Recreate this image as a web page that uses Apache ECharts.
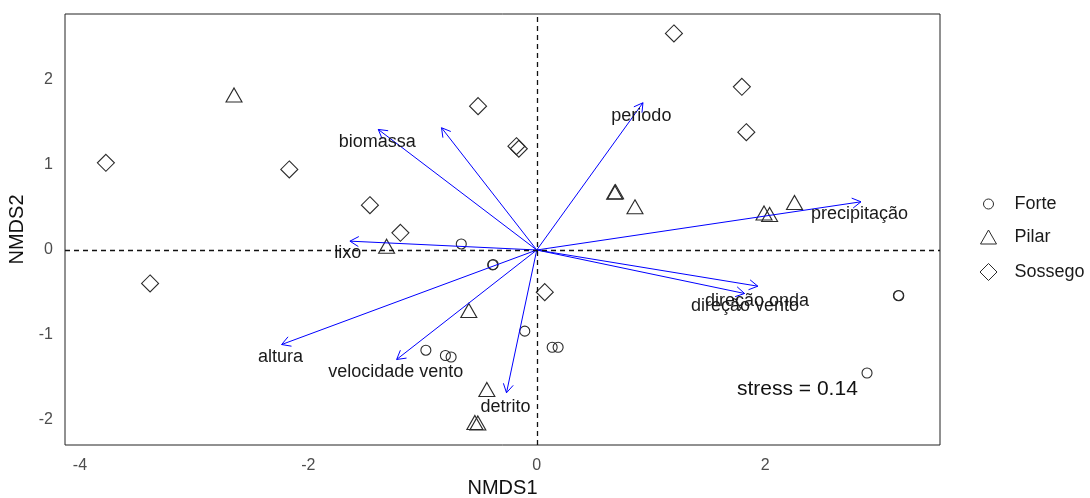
<!DOCTYPE html>
<html><head><meta charset="utf-8">
<script src="https://cdn.jsdelivr.net/npm/echarts@6/dist/echarts.min.js"></script>
<style>html,body{margin:0;padding:0;background:#fff}#c{width:1090px;height:498px}</style>
</head><body><div id="c"></div>
<script>
// ---- data ----
const xTicks = [-4, -2, 0, 2];
const yTicks = [-2, -1, 0, 1, 2];

const forte = [
  [-0.661, 0.071], [-0.382, -0.171], [-0.386, -0.176], [-0.105, -0.955],
  [-0.971, -1.179], [-0.800, -1.241], [-0.750, -1.259], [0.135, -1.144],
  [0.187, -1.144], [3.167, -0.535], [3.170, -0.538], [2.892, -1.447]
];
const pilar = [
  [-2.651, 1.824], [-1.315, 0.045], [-0.595, -0.712], [-0.437, -1.641],
  [-0.542, -2.029], [-0.516, -2.035], [0.682, 0.680], [0.690, 0.685],
  [0.860, 0.508], [1.990, 0.435], [2.039, 0.418], [2.257, 0.559]
];
const sossego = [
  [-3.773, 1.026], [-3.386, -0.394], [-2.167, 0.947], [-1.461, 0.527],
  [-1.194, 0.202], [-0.514, 1.692], [-0.178, 1.221], [-0.157, 1.191],
  [0.070, -0.496], [1.201, 2.547], [1.796, 1.920], [1.835, 1.386]
];

const arrowNames = ['biomassa', '', 'lixo', 'periodo', 'precipitação', 'direção onda',
  'direção vento', 'altura', 'velocidade vento', 'detrito'];
const arrowTips = [
  [-1.388, 1.418], [-0.834, 1.438], [-1.636, 0.104], [0.930, 1.732], [2.839, 0.567],
  [1.936, -0.426], [1.820, -0.512], [-2.234, -1.112], [-1.227, -1.288], [-0.265, -1.680]
];
const labelNames = ['biomassa', 'lixo', 'periodo', 'precipitação', 'direção onda',
  'direção vento', 'altura', 'velocidade vento', 'detrito'];
const labelPos = [
  [-1.397, 1.291], [-1.655, -0.014], [0.916, 1.602], [2.826, 0.449], [1.929, -0.582],
  [1.824, -0.641], [-2.244, -1.241], [-1.235, -1.414], [-0.274, -1.818]
];
const stressText = 'stress = 0.14';

// ---- chart ----
const FONT = '"Liberation Sans", Arial, sans-serif';
const chart = echarts.init(document.getElementById('c'), null, {renderer: 'canvas'});
const ptStyle = {color: 'rgba(0,0,0,0)', borderColor: '#2b2b2b', borderWidth: 1.1, opacity: 1};

function legendFor(name, w, h, cy, pad) {
  return {
    data: [name], orient: 'vertical', left: 988 - w / 2, top: cy - 7, padding: 0,
    itemWidth: w, itemHeight: h, symbolKeepAspect: true,
    itemStyle: {borderWidth: 1, borderColor: '#2b2b2b', color: 'rgba(0,0,0,0)'},
    textStyle: {fontSize: 18, color: '#1a1a1a', fontFamily: FONT, padding: [0, 0, 0, pad]},
    selectedMode: false
  };
}

chart.setOption({
  animation: false,
  backgroundColor: '#fff',
  textStyle: {fontFamily: FONT},
  grid: {left: 65, right: 150, top: 14, bottom: 53, show: true, borderColor: '#222', borderWidth: 1,
    outerBoundsMode: 'none', containLabel: false},
  xAxis: {
    type: 'value', min: -4.131, max: 3.531,
    axisLine: {show: false}, axisTick: {show: false}, splitLine: {show: false},
    axisLabel: {customValues: xTicks, color: '#4d4d4d', fontSize: 16, margin: 13, fontFamily: FONT},
    name: 'NMDS1', nameLocation: 'middle', nameGap: 32,
    nameTextStyle: {fontSize: 20, color: '#111', fontFamily: FONT}
  },
  yAxis: {
    type: 'value', min: -2.294, max: 2.776,
    axisLine: {show: false}, axisTick: {show: false}, splitLine: {show: false},
    axisLabel: {customValues: yTicks, color: '#4d4d4d', fontSize: 16, margin: 12, fontFamily: FONT,
      padding: [7, 0, 0, 0]},
    name: 'NMDS2', nameLocation: 'middle', nameGap: 21, nameRotate: 90,
    nameTextStyle: {fontSize: 20, color: '#111', fontFamily: FONT}
  },
  legend: [
    legendFor('Forte', 10, 10, 202, 16),
    legendFor('Pilar', 16, 14, 235, 13),
    legendFor('Sossego', 17, 17, 270, 12.5)
  ],
  series: [
    {
      name: 'Forte', type: 'scatter', data: forte, symbol: 'circle', symbolSize: 10,
      itemStyle: ptStyle, z: 2,
      markLine: {
        silent: true, symbol: ['none', 'none'], label: {show: false},
        lineStyle: {color: '#111', width: 1.3, type: [5, 4], opacity: 1},
        data: [{xAxis: 0}, {yAxis: 0}]
      }
    },
    {name: 'Pilar', type: 'scatter', data: pilar, symbol: 'triangle', symbolSize: [16, 14], itemStyle: ptStyle, z: 2},
    {name: 'Sossego', type: 'scatter', data: sossego, symbol: 'diamond', symbolSize: 17, itemStyle: ptStyle, z: 2},
    {
      name: 'arrows', type: 'custom', z: 3, silent: true,
      data: arrowTips.map((p, i) => ({value: p, name: arrowNames[i]})),
      encode: {x: 0, y: 1},
      renderItem: function (params, api) {
        const o = api.coord([0, 0]);
        const t = api.coord([api.value(0), api.value(1)]);
        const a = Math.atan2(t[1] - o[1], t[0] - o[0]);
        const L = 10, s = Math.PI / 6;
        const h1 = [t[0] - L * Math.cos(a - s), t[1] - L * Math.sin(a - s)];
        const h2 = [t[0] - L * Math.cos(a + s), t[1] - L * Math.sin(a + s)];
        return {
          type: 'group', children: [
            {type: 'line', shape: {x1: o[0], y1: o[1], x2: t[0], y2: t[1]}, style: {stroke: '#0000ff', lineWidth: 1}},
            {type: 'polyline', shape: {points: [h1, t, h2]}, style: {stroke: '#0000ff', lineWidth: 1, fill: null}}
          ]
        };
      }
    },
    {
      name: 'labels', type: 'scatter', z: 4, silent: true, symbolSize: 0,
      itemStyle: {opacity: 1},
      data: labelPos.map((p, i) => ({value: p, name: labelNames[i]})),
      label: {show: true, position: 'inside', offset: [0, 2], formatter: '{b}', fontSize: 18,
        color: '#1a1a1a', fontFamily: FONT, opacity: 1}
    }
  ],
  graphic: [{
    type: 'text', left: 737, top: 379, z: 10,
    style: {text: stressText, fontSize: 21, fill: '#111', font: '21px ' + FONT}
  }]
});
</script></body></html>
